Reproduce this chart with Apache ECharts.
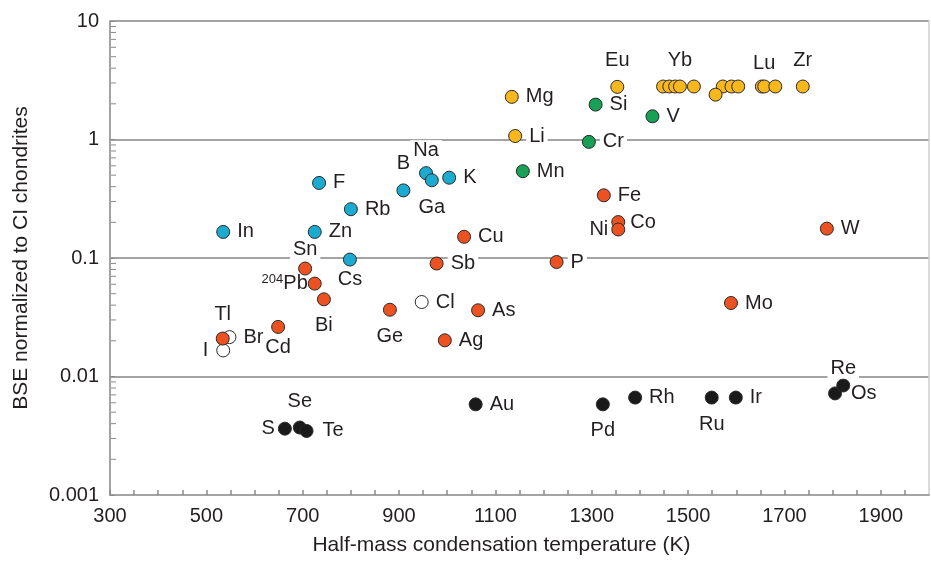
<!DOCTYPE html>
<html>
<head>
<meta charset="utf-8">
<script src="https://cdn.jsdelivr.net/npm/echarts@6/dist/echarts.min.js"></script>
<style>
  html, body { margin: 0; padding: 0; background: #fff; }
  #chart { width: 931px; height: 561px; }
</style>
</head>
<body>
<div id="chart"></div>
<script>
// Half-mass condensation temperature (K) and BSE abundance normalized to CI chondrites

// Volatile lithophile elements
const blueNames  = ['In', 'Zn', 'F', 'Cs', 'Rb', 'B', 'Na', 'Ga', 'K'];
const blueTemps  = [535, 725, 734, 798, 800, 909, 956, 968, 1004];
const blueValues = [0.166, 0.166, 0.43, 0.097, 0.258, 0.372, 0.52, 0.453, 0.476];

// Refractory lithophile elements
const yellowNames  = ['Mg', 'Li', 'Eu', '', '', '', 'Yb', '', '', '', '', '', '', 'Lu', '', 'Zr'];
const yellowTemps  = [1134, 1141, 1353, 1448, 1461, 1473, 1483, 1512, 1572, 1590, 1604, 1557, 1653, 1658, 1681, 1738];
const yellowValues = [2.29, 1.07, 2.78, 2.8, 2.8, 2.8, 2.8, 2.8, 2.8, 2.8, 2.8, 2.39, 2.8, 2.8, 2.8, 2.8];

// Moderately volatile lithophile elements
const greenNames  = ['Mn', 'Cr', 'Si', 'V'];
const greenTemps  = [1157, 1294, 1308, 1426];
const greenValues = [0.54, 0.955, 1.97, 1.57];

// Siderophile and chalcophile elements
const redNames  = ['Tl', 'Cd', 'Sn', '204Pb', 'Bi', 'Ge', 'Sb', 'Ag', 'Cu', 'As', 'P', 'Fe', 'Co', 'Ni', 'Mo', 'W'];
const redTemps  = [534, 649, 705, 725, 744, 881, 978, 995, 1035, 1064, 1227, 1325, 1355, 1355, 1589, 1788];
const redValues = [0.0209, 0.0262, 0.0815, 0.0608, 0.0448, 0.0366, 0.0898, 0.0202, 0.151, 0.0362, 0.0925, 0.338, 0.201, 0.174, 0.0417, 0.177];

// Halogens (open symbols)
const openNames  = ['Br', 'I', 'Cl'];
const openTemps  = [548, 535, 947];
const openValues = [0.0215, 0.0166, 0.0425];

// Highly siderophile elements, S, Se, Te
const blackNames  = ['S', 'Se', 'Te', 'Au', 'Pd', 'Rh', 'Ru', 'Ir', 'Os', 'Re'];
const blackTemps  = [663, 694, 708, 1059, 1323, 1390, 1549, 1599, 1805, 1822];
const blackValues = [0.00363, 0.00371, 0.00347, 0.00582, 0.00582, 0.00664, 0.00664, 0.00664, 0.0072, 0.0084];

// Axis ticks
const xLabelStep = 200;
const yDecades = [0.001, 0.01, 0.1, 1, 10];
const yMinorTicks = [];
for (let i = 0; i < yDecades.length - 1; i++) {
  for (let k = 2; k <= 9; k++) yMinorTicks.push(+(k * yDecades[i]).toPrecision(2));
}

// Label placement for element symbols
const labelPlacement = {
  Cs: { position: 'bottom', distance: 3 },
  Ga: { position: 'bottom', distance: 10 },
  B:  { position: 'top', distance: 10 },
  Na: { position: 'top', distance: 9, bg: true },
  Li: { bg: true },
  Cr: { bg: true },
  Eu: { position: 'top', distance: 9 },
  Yb: { position: 'top', distance: 9, offset: [3, 0] },
  Lu: { position: 'top', distance: 6 },
  Zr: { position: 'top', distance: 9 },
  Sn: { position: 'top', distance: 5, offset: [-22, 0], bg: true },
  '204Pb': { position: 'left', distance: 0 },
  Bi: { position: 'bottom', distance: 9 },
  Tl: { position: 'top', distance: 7 },
  Cd: { position: 'bottom', distance: 4, offset: [3, 0] },
  Ge: { position: 'bottom', distance: 10 },
  Sb: { bg: true },
  P:  { bg: true },
  Co: { distance: 5 },
  Ni: { position: 'left', distance: 3 },
  I:  { position: 'left', distance: 8, offset: [0, 2] },
  S:  { position: 'left', distance: 3 },
  Se: { position: 'top', distance: 9 },
  Te: { distance: 9 },
  Pd: { position: 'bottom', distance: 9 },
  Ru: { position: 'bottom', distance: 10 },
  Re: { position: 'top', distance: 3, bg: true },
  Os: { distance: 9 }
};

const textColor = '#231f20';
const labelFont = 'Liberation Sans, Arial, Helvetica, sans-serif';

function buildItems(names, temps, values) {
  return names.map((name, i) => {
    const place = labelPlacement[name] || {};
    const label = {
      show: name !== '',
      position: place.position || 'right',
      distance: place.distance !== undefined ? place.distance : 7,
      offset: place.offset || [0, 0]
    };
    if (place.bg) {
      label.backgroundColor = '#ffffff';
      label.padding = [0, 3, 0, 3];
      label.distance = Math.max(0, label.distance - 3);
    }
    return { name: name, value: [temps[i], values[i]], label: label };
  });
}

function scatterSeries(names, temps, values, fill) {
  return {
    type: 'scatter',
    symbol: 'circle',
    symbolSize: 13,
    itemStyle: { color: fill, borderColor: '#2a2a2a', borderWidth: 1, opacity: 1 },
    label: {
      color: textColor,
      fontFamily: labelFont,
      fontSize: 20,
      formatter: p => p.name === '204Pb' ? '{sup|204}{main|Pb}' : p.name,
      rich: {
        sup: { fontSize: 13, fontFamily: labelFont, color: textColor, verticalAlign: 'top', lineHeight: 22 },
        main: { fontSize: 20, fontFamily: labelFont, color: textColor, lineHeight: 22 }
      }
    },
    emphasis: { disabled: true },
    labelLayout: { hideOverlap: false },
    data: buildItems(names, temps, values)
  };
}

const chart = echarts.init(document.getElementById('chart'), null, { renderer: 'canvas' });

const axisGray = '#a3a3a3';

chart.setOption({
  animation: false,
  backgroundColor: '#ffffff',
  grid: { left: 110, right: 2, top: 21, bottom: 66, containLabel: false },
  xAxis: {
    type: 'value',
    min: 300,
    max: 2000,
    interval: 50,
    name: 'Half-mass condensation temperature (K)',
    nameLocation: 'middle',
    nameGap: 40,
    nameTextStyle: { color: textColor, fontSize: 21, fontFamily: labelFont, padding: [0, 36, 0, 0] },
    axisLine: { show: true, onZero: false, lineStyle: { color: axisGray, width: 2 } },
    axisTick: { show: true, inside: true, length: 5, lineStyle: { color: '#8a8a8a', width: 1.5 } },
    axisLabel: {
      color: textColor,
      fontSize: 20,
      fontFamily: labelFont,
      margin: 11,
      showMaxLabel: false,
      formatter: v => ((v - 300) % xLabelStep === 0 && v < 2000) ? String(v) : ''
    },
    splitLine: { show: false }
  },
  yAxis: [
    {
      type: 'log',
      logBase: 10,
      min: 0.001,
      max: 10,
      name: 'BSE normalized to CI chondrites',
      nameLocation: 'middle',
      nameGap: 78,
      nameTextStyle: { color: textColor, fontSize: 21, fontFamily: labelFont },
      axisLine: { show: true, lineStyle: { color: axisGray, width: 2 } },
      axisTick: { show: true, inside: true, length: 5, lineStyle: { color: '#8a8a8a', width: 1 } },
      axisLabel: {
        color: textColor,
        fontSize: 20,
        fontFamily: labelFont,
        margin: 11,
        formatter: v => String(+v.toPrecision(1))
      },
      splitLine: { show: true, lineStyle: { color: axisGray, width: 2 } }
    },
    {
      type: 'log',
      logBase: 10,
      min: 0.001,
      max: 10,
      position: 'right',
      axisLine: { show: true, lineStyle: { color: '#cfcfcf', width: 1.5 } },
      axisTick: { show: false },
      axisLabel: { show: false },
      splitLine: { show: false }
    }
  ],
  series: [
    {
      // log minor ticks along the left axis
      type: 'custom',
      silent: true,
      clip: false,
      z: 1,
      data: yMinorTicks.map(v => [300, v]),
      renderItem: (params, api) => {
        const p = api.coord([api.value(0), api.value(1)]);
        return {
          type: 'line',
          shape: { x1: p[0] + 1, y1: p[1], x2: p[0] + 6, y2: p[1] },
          style: { stroke: '#8a8a8a', lineWidth: 1 }
        };
      }
    },
    scatterSeries(blackNames, blackTemps, blackValues, '#1a1a1a'),
    scatterSeries(openNames, openTemps, openValues, '#ffffff'),
    scatterSeries(redNames, redTemps, redValues, '#ec5221'),
    scatterSeries(greenNames, greenTemps, greenValues, '#17a056'),
    scatterSeries(blueNames, blueTemps, blueValues, '#1babd0'),
    scatterSeries(yellowNames, yellowTemps, yellowValues, '#f8b71c')
  ]
});
</script>
</body>
</html>
